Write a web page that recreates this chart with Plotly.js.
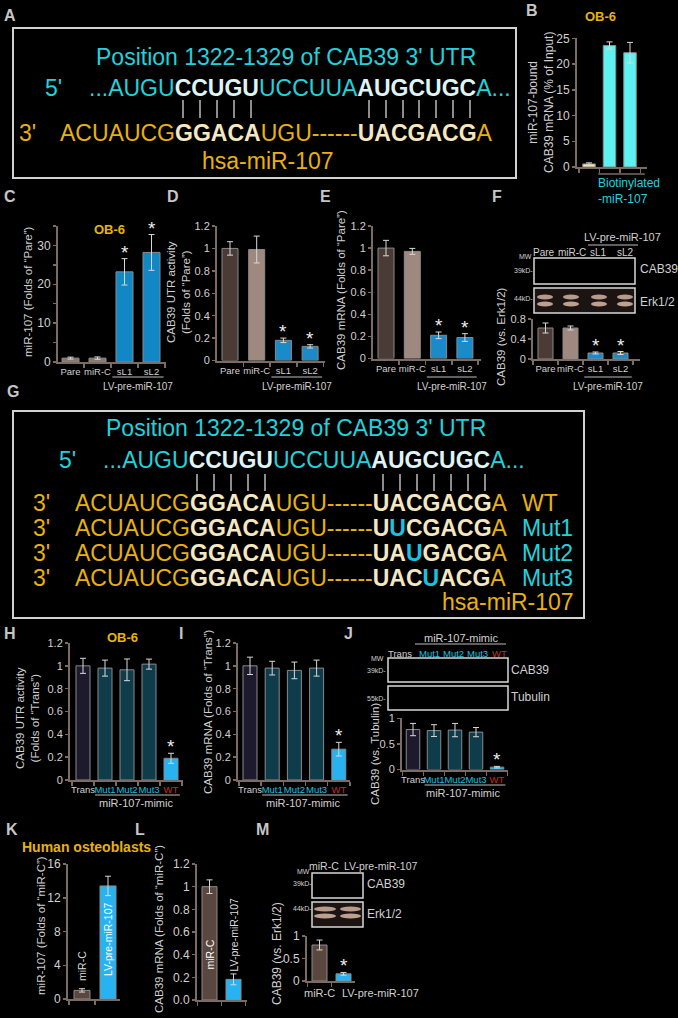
<!DOCTYPE html>
<html><head><meta charset="utf-8">
<script src="https://cdn.plot.ly/plotly-3.0.1.min.js"></script>
<style>html,body{margin:0;padding:0;background:#000;} #chart{width:678px;height:1018px;}</style>
</head><body><div id="chart"></div>
<script>
// ---------------- DATA ----------------
const bCategories = ['Control', 'Biotinylated-miR-107 a', 'Biotinylated-miR-107 b'];
const bValues = [0.6, 23.6, 22.2];
const bErrors = [0.2, 0.7, 2.0];

const lvCategories = ['Pare', 'miR-C', 'sL1', 'sL2'];
const lvStars = [false, false, true, true];
const cValues = [1.0, 1.0, 23.2, 28.2];
const cErrors = [0.25, 0.3, 3.4, 4.6];
const dValues = [1.0, 0.99, 0.18, 0.126];
const dErrors = [0.06, 0.12, 0.02, 0.015];
const eValues = [1.0, 0.97, 0.21, 0.19];
const eErrors = [0.07, 0.027, 0.03, 0.035];
const fValues = [0.62, 0.62, 0.12, 0.12];
const fErrors = [0.1, 0.04, 0.02, 0.03];

const mimicCategories = ['Trans', 'Mut1', 'Mut2', 'Mut3', 'WT'];
const mimicStars = [false, false, false, false, true];
const hValues = [1.0, 0.98, 0.965, 1.015, 0.19];
const hErrors = [0.066, 0.07, 0.095, 0.044, 0.044];
const iValues = [1.0, 0.98, 0.96, 0.98, 0.27];
const iErrors = [0.076, 0.06, 0.073, 0.07, 0.06];
const jValues = [0.78, 0.76, 0.77, 0.73, 0.046];
const jErrors = [0.12, 0.115, 0.13, 0.09, 0.015];

const hobCategories = ['miR-C', 'LV-pre-miR-107'];
const kValues = [1.02, 13.4];
const kErrors = [0.2, 1.15];
const lValues = [1.0, 0.182];
const lErrors = [0.06, 0.048];
const lTickVals = [0, 0.2, 0.4, 0.6, 0.8, 1.0, 1.2];
const lTickText = ['0.0', '0.2', '0.4', '0.6', '0.8', '1', '1.2'];
const mValues = [0.8, 0.16];
const mErrors = [0.11, 0.03];
const mStars = [false, true];

const utrTitle = 'Position 1322-1329 of CAB39 3\' UTR';
const utrSeq = [['...AUGU', 'n'], ['CCUGU', 'h'], ['UCCUUA', 'n'], ['AUGCUGC', 'h'], ['A...', 'n']];
const mirWT = [['ACUAUCG', 'n'], ['GGACA', 'h'], ['UGU------', 'n'], ['UACGACG', 'h'], ['A', 'n']];
const mirMut1 = [['ACUAUCG', 'n'], ['GGACA', 'h'], ['UGU------', 'n'], ['U', 'h'], ['U', 'm'], ['CGACG', 'h'], ['A', 'n']];
const mirMut2 = [['ACUAUCG', 'n'], ['GGACA', 'h'], ['UGU------', 'n'], ['UA', 'h'], ['U', 'm'], ['GACG', 'h'], ['A', 'n']];
const mirMut3 = [['ACUAUCG', 'n'], ['GGACA', 'h'], ['UGU------', 'n'], ['UAC', 'h'], ['U', 'm'], ['ACG', 'h'], ['A', 'n']];
const mutRows = [['WT', mirWT], ['Mut1', mirMut1], ['Mut2', mirMut2], ['Mut3', mirMut3]];

// ---------------- STYLE / HELPERS ----------------
const FONT = 'Liberation Sans, Arial, Helvetica, sans-serif';
const W = 678, H = 1018;
const TXT = '#d0d0d0', AX = '#7b6b63', LETTER = '#c6c6c6';
const CY = '#1fd3dc', GOLD = '#e8b20a', HLC = '#dff4f4', HLG = '#f5e8c0', MUT = '#17c3e0', RED = '#c6301c';
const fx = x => x / W, fy = y => 1 - y / H;
const annotations = [], shapes = [], traces = [];
const layout = {width: W, height: H, margin: {l: 0, r: 0, t: 0, b: 0}, paper_bgcolor: '#000', plot_bgcolor: 'rgba(0,0,0,0)',
  showlegend: false, font: {family: FONT, color: TXT}, bargap: 0};

function txt(x, y, text, o = {}) {
  annotations.push({xref: o.xref || 'paper', yref: 'paper', x: o.xref ? x : fx(x), y: fy(y), text: text, showarrow: false,
    xanchor: o.xa || 'center', yanchor: o.ya || 'middle', textangle: o.angle || 0, align: o.align || 'center',
    font: {family: FONT, size: o.size || 12, color: o.color || TXT}});
}
function rect(x0, y0, x1, y1, o = {}) {
  shapes.push({type: o.type || 'rect', xref: 'paper', yref: 'paper', x0: fx(x0), x1: fx(x1), y0: fy(y1), y1: fy(y0),
    line: {color: o.lc || '#d4d4d4', width: o.lw === undefined ? 1.5 : o.lw}, fillcolor: o.fill || 'rgba(0,0,0,0)', layer: 'above', opacity: o.op || 1});
}
function hline(x0, x1, y, o = {}) {
  shapes.push({type: 'line', xref: o.xref || 'paper', yref: 'paper', x0: o.xref ? x0 : fx(x0), x1: o.xref ? x1 : fx(x1), y0: fy(y), y1: fy(y),
    line: {color: o.color || '#bdbdbd', width: o.w || 1.2}});
}
function seqHtml(segs, base, hl) {
  return segs.map(([t, k]) => k === 'n' ? `<span style="color:${base}">${t}</span>`
    : k === 'h' ? `<span style="color:${hl}"><b>${t}</b></span>` : `<span style="color:${MUT}"><b>${t}</b></span>`).join('');
}

function chart(n, g) {
  const sfx = n === 1 ? '' : String(n);
  const xr = 'x' + sfx, yr = 'y' + sfx;
  const idx = g.cats.map((_, i) => i);
  layout['xaxis' + sfx] = {domain: [fx(g.L), fx(g.R)], range: [(g.L - g.c0) / g.s, (g.R - g.c0) / g.s], anchor: yr,
    showline: true, linecolor: AX, linewidth: 2, showgrid: false, zeroline: false, tickmode: 'array', tickvals: idx,
    ticktext: g.ticktext || g.cats.map(() => ''), ticks: '', tickangle: 0, tickfont: {family: FONT, size: g.xfs || 9.5, color: TXT},
    minor: {tick0: 0.5, dtick: 1, ticks: 'outside', ticklen: 4, tickcolor: AX, tickwidth: 1.5, showgrid: false}, fixedrange: true};
  const ya = {domain: [fy(g.y0), fy(g.yTop)], range: [0, g.ymax], anchor: xr, showline: true, linecolor: AX, linewidth: 2,
    showgrid: false, zeroline: false, ticks: 'outside', ticklen: 3, tickwidth: 1.5, tickcolor: AX, tickangle: 0,
    tickfont: {family: FONT, size: g.yfs || 11, color: TXT}, fixedrange: true};
  if (g.tickvals) { ya.tickmode = 'array'; ya.tickvals = g.tickvals; ya.ticktext = g.tickvaltext || g.tickvals.map(String); }
  else { ya.dtick = g.dtick; ya.tick0 = 0; }
  if (g.minor) ya.minor = {dtick: g.minor, tick0: 0, ticks: 'outside', ticklen: 3, tickcolor: AX, tickwidth: 1.5};
  layout['yaxis' + sfx] = ya;
  traces.push({type: 'bar', x: idx, y: g.values, width: g.w / g.s, xaxis: xr, yaxis: yr, hoverinfo: 'skip',
    marker: {color: g.colors, line: {color: '#8a8a8a', width: 1}},
    error_y: {type: 'data', array: g.errors, visible: true, color: '#d8d8d8', thickness: 1, width: 3}});
  if (g.stars) g.stars.forEach((s, i) => {
    if (s) annotations.push({xref: xr, yref: yr, x: i, y: g.values[i] + g.errors[i], text: '*', showarrow: false,
      yanchor: 'bottom', yshift: -6, font: {family: FONT, size: 19, color: '#eeeeee'}});
  });
  return {xr, yr};
}

// ---------------- PANEL LETTERS ----------------
[['A', 10, 15], ['B', 532, 11], ['C', 10, 197], ['D', 173, 197], ['E', 325, 197], ['F', 497, 197], ['G', 13, 392],
 ['H', 10, 633], ['I', 181, 633], ['J', 348, 633], ['K', 12, 829], ['L', 140, 829], ['M', 262, 829]]
  .forEach(([t, x, y]) => txt(x, y, '<b>' + t + '</b>', {size: 16, color: LETTER}));

// ---------------- PANEL A ----------------
rect(13, 28, 516, 178, {lc: '#d2d2d2', lw: 2});
txt(286, 57, utrTitle, {size: 23, color: CY});
txt(43, 88, "5'", {size: 23, color: CY, xa: 'left'});
txt(87, 88, seqHtml(utrSeq, CY, HLC), {size: 23, xa: 'left'});
[183, 200, 217, 234, 251, 369, 386, 403, 419, 436, 453, 470].forEach(x =>
  shapes.push({type: 'line', xref: 'paper', yref: 'paper', x0: fx(x), x1: fx(x), y0: fy(118), y1: fy(100), line: {color: '#d8d8d8', width: 1.3}}));
txt(17, 133, "3'", {size: 23, color: GOLD, xa: 'left'});
txt(58, 133, seqHtml(mirWT, GOLD, HLG), {size: 23, xa: 'left'});
txt(268, 161, 'hsa-miR-107', {size: 23, color: GOLD});

// ---------------- PANEL B ----------------
const gB = chart(1, {cats: bCategories, values: bValues, errors: bErrors, L: 577, R: 647, c0: 589, s: 20.5, w: 12.5,
  y0: 167, yTop: 38.3, ymax: 25, dtick: 5, yfs: 12, colors: ['#f2e9a0', '#5ef1f1', '#5ef1f1']});
txt(600, 16, '<b>OB-6</b>', {size: 13, color: GOLD});
txt(541, 103, 'miR-107-bound<br>CAB39 mRNA (% of Input)', {size: 12, angle: -90});
hline(0.45, 2.72, 174, {xref: gB.xr, color: AX, w: 1.5});
txt(596, 191, 'Biotinylated<br>-miR-107', {size: 12, color: CY, xa: 'left', align: 'left'});

// ---------------- PANELS C-F ----------------
const lvColors = ['#4b3b36', '#9f887f', '#1a8ac8', '#1a8ac8'];
const gC = chart(2, {cats: lvCategories, ticktext: lvCategories, values: cValues, errors: cErrors, stars: lvStars,
  L: 58, R: 166, c0: 70.5, s: 27, w: 17, y0: 362, yTop: 226, ymax: 35, tickvals: [0, 10, 20, 30], minor: 5, yfs: 12,
  colors: ['#8a766d', '#8a766d', '#1187c6', '#1187c6']});
const gD = chart(3, {cats: lvCategories, ticktext: lvCategories, values: dValues, errors: dErrors, stars: lvStars,
  L: 217, R: 325, c0: 230, s: 26.7, w: 16, y0: 360.5, yTop: 226, ymax: 1.2, dtick: 0.2, colors: lvColors});
const gE = chart(4, {cats: lvCategories, ticktext: lvCategories, values: eValues, errors: eErrors, stars: lvStars,
  L: 373, R: 481, c0: 386, s: 26.3, w: 16, y0: 358.5, yTop: 226, ymax: 1.2, dtick: 0.2, colors: lvColors});
const gF = chart(5, {cats: lvCategories, ticktext: lvCategories, values: fValues, errors: fErrors, stars: lvStars,
  L: 533, R: 640, c0: 545.5, s: 25, w: 15, y0: 359, yTop: 319, ymax: 0.8, dtick: 0.4, colors: lvColors});
[gC, gD, gE, gF].forEach(g => {
  hline(1.55, 3.45, 377, {xref: g.xr, color: '#bdbdbd', w: 1});
  txt(2.5, 386, 'LV-pre-miR-107', {xref: g.xr, size: 10});
});
txt(109, 229, '<b>OB-6</b>', {size: 13, color: GOLD});
txt(28, 292, 'miR-107 (Folds of “Pare”)', {size: 11.5, angle: -90});
txt(178, 292, 'CAB39 UTR activity<br>(Folds of “Pare”)', {size: 11.5, angle: -90});
txt(341, 290, 'CAB39 mRNA (Folds of “Pare”)', {size: 11.5, angle: -90});
txt(501, 337, 'CAB39 (vs. Erk1/2)', {size: 11.5, angle: -90});
// F blot
txt(622, 237, 'LV-pre-miR-107', {size: 11});
hline(588, 638, 245, {color: '#bdbdbd', w: 1});
[543.5, 572, 598.5, 625].forEach((x, i) => txt(x, 253, lvCategories[i], {size: 10}));
txt(525, 256, 'MW', {size: 7});
rect(534, 258, 635, 284, {lc: '#d8d8d8', lw: 1.5});
txt(523, 270, '39kD-', {size: 7});
txt(638, 269, 'CAB39', {size: 12, xa: 'left'});
rect(534, 288, 635, 313, {lc: '#d8d8d8', lw: 1.5, fill: '#1c1412'});
[[537, 553], [563, 579], [591, 607], [617, 633]].forEach(([a, b]) => {
  rect(a, 294.5, b, 299.5, {type: 'circle', lw: 0, lc: 'rgba(0,0,0,0)', fill: '#b89a8b'});
  rect(a, 301.5, b, 306.5, {type: 'circle', lw: 0, lc: 'rgba(0,0,0,0)', fill: '#bea090'});
});
txt(523, 298, '44kD-', {size: 7});
txt(638, 302, 'Erk1/2', {size: 12, xa: 'left'});

// ---------------- PANEL G ----------------
rect(13, 411, 584, 618, {lc: '#d2d2d2', lw: 2});
txt(296, 428, utrTitle, {size: 23, color: CY});
txt(57, 460, "5'", {size: 23, color: CY, xa: 'left'});
txt(101, 460, seqHtml(utrSeq, CY, HLC), {size: 23, xa: 'left'});
[197, 214, 231, 248, 265, 383, 400, 417, 434, 451, 468, 485].forEach(x =>
  shapes.push({type: 'line', xref: 'paper', yref: 'paper', x0: fx(x), x1: fx(x), y0: fy(491), y1: fy(474), line: {color: '#d8d8d8', width: 1.3}}));
mutRows.forEach(([name, segs], r) => {
  const y = 503 + r * 25;
  txt(31, y, "3'", {size: 23, color: GOLD, xa: 'left'});
  txt(73, y, seqHtml(segs, GOLD, HLG), {size: 23, xa: 'left'});
  txt(520, y, name, {size: 23, color: name === 'WT' ? GOLD : CY, xa: 'left'});
});
txt(440, 602, 'hsa-miR-107', {size: 23, color: GOLD, xa: 'left'});

// ---------------- PANELS H-J ----------------
const mimicColors = ['#1d1a2d', '#0e3c4b', '#0e3c4b', '#0e3c4b', '#27b3f1'];
const mimicTextColors = [TXT, MUT, MUT, MUT, RED];
const mimicTicks = mimicCategories.map((c, i) => `<span style="color:${mimicTextColors[i]}">${c}</span>`);
const gH = chart(6, {cats: mimicCategories, ticktext: mimicTicks, values: hValues, errors: hErrors, stars: mimicStars,
  L: 70, R: 183, c0: 83, s: 22, w: 14, y0: 780, yTop: 643, ymax: 1.2, dtick: 0.2, colors: mimicColors});
const gI = chart(7, {cats: mimicCategories, ticktext: mimicTicks, values: iValues, errors: iErrors, stars: mimicStars,
  L: 238, R: 350, c0: 250, s: 22.2, w: 14, y0: 780, yTop: 643, ymax: 1.2, dtick: 0.2, colors: mimicColors});
const gJ = chart(8, {cats: mimicCategories, ticktext: mimicTicks, values: jValues, errors: jErrors, stars: mimicStars,
  L: 402, R: 508, c0: 413, s: 21, w: 13.5, y0: 769.5, yTop: 718.3, ymax: 1, dtick: 0.5, colors: mimicColors});
[[gH, 795, 803], [gI, 795, 803], [gJ, 785, 793]].forEach(([g, ly, ty]) => {
  hline(0.55, 4.4, ly, {xref: g.xr, color: '#bdbdbd', w: 1});
  txt(2.4, ty, 'miR-107-mimic', {xref: g.xr, size: 11});
});
txt(122, 637, '<b>OB-6</b>', {size: 13, color: GOLD});
txt(27, 718, 'CAB39 UTR activity<br>(Folds of “Trans”)', {size: 11.5, angle: -90});
txt(208, 712, 'CAB39 mRNA (Folds of “Trans”)', {size: 11.5, angle: -90});
txt(375, 754, 'CAB39 (vs. Tubulin)', {size: 11.5, angle: -90});
// J blot
txt(461, 638, 'miR-107-mimic', {size: 11});
hline(415, 506, 644, {color: '#bdbdbd', w: 1});
[400, 429, 453.5, 477, 499.5].forEach((x, i) => txt(x, 653, mimicCategories[i], {size: 9.5, color: mimicTextColors[i]}));
txt(377, 658, 'MW', {size: 7});
rect(388, 658, 508, 682, {lc: '#d8d8d8', lw: 1.5});
txt(376, 670, '39kD-', {size: 7});
txt(509, 670, 'CAB39', {size: 12, xa: 'left'});
rect(388, 686, 508, 710, {lc: '#d8d8d8', lw: 1.5});
txt(376, 698, '55kD-', {size: 7});
txt(509, 697, 'Tubulin', {size: 12, xa: 'left'});

// ---------------- PANELS K-M ----------------
const hobColors = ['#5a4840', '#27b3f1'];
const gK = chart(9, {cats: hobCategories, values: kValues, errors: kErrors, L: 68, R: 120, c0: 82, s: 26, w: 16,
  y0: 999, yTop: 864, ymax: 16, dtick: 4, yfs: 12, colors: hobColors});
const gL = chart(10, {cats: hobCategories, values: lValues, errors: lErrors, L: 197, R: 247, c0: 209.5, s: 24, w: 15,
  y0: 1000, yTop: 864, ymax: 1.2, tickvals: lTickVals, tickvaltext: lTickText, yfs: 12, colors: hobColors});
const gM = chart(11, {cats: hobCategories, values: mValues, errors: mErrors, stars: mStars, L: 307, R: 355, c0: 319.5, s: 24, w: 15,
  y0: 981, yTop: 936, ymax: 1, dtick: 0.5, yfs: 12, colors: hobColors});
txt(86, 847, '<b>Human osteoblasts</b>', {size: 14, color: GOLD});
txt(41, 926, 'miR-107 (Folds of “miR-C”)', {size: 11.5, angle: -90});
txt(159, 929, 'CAB39 mRNA (Folds of “miR-C”)', {size: 11.5, angle: -90});
txt(277, 954, 'CAB39 (vs. Erk1/2)', {size: 12, angle: -90});
txt(0, 966, hobCategories[0], {xref: gK.xr, size: 10.5, angle: -90, color: '#dedede'});
txt(1, 940, hobCategories[1], {xref: gK.xr, size: 10.5, angle: -90, color: '#ffffff'});
txt(0, 955, hobCategories[0], {xref: gL.xr, size: 10.5, angle: -90, color: '#ffffff'});
txt(1, 935, hobCategories[1], {xref: gL.xr, size: 10.5, angle: -90, color: '#dedede'});
txt(0, 993, hobCategories[0], {xref: gM.xr, size: 11});
txt(0.85, 993, hobCategories[1], {xref: gM.xr, size: 11, xa: 'left'});
// M blot
txt(303, 871, 'MW', {size: 7});
txt(324, 866, hobCategories[0], {size: 10.5});
txt(342, 866, hobCategories[1], {size: 10.5, xa: 'left'});
rect(312, 873, 363, 898, {lc: '#d8d8d8', lw: 1.5});
txt(302, 883, '39kD-', {size: 7});
txt(365, 884, 'CAB39', {size: 12, xa: 'left'});
rect(312, 902, 363, 927, {lc: '#d8d8d8', lw: 1.5, fill: '#1c1412'});
[[314, 336], [340, 361]].forEach(([a, b]) => {
  rect(a, 906.5, b, 911.5, {type: 'circle', lw: 0, lc: 'rgba(0,0,0,0)', fill: '#b89a8b'});
  rect(a, 913.5, b, 918.5, {type: 'circle', lw: 0, lc: 'rgba(0,0,0,0)', fill: '#bea090'});
});
txt(302, 908, '44kD-', {size: 7});
txt(365, 914, 'Erk1/2', {size: 12, xa: 'left'});

layout.annotations = annotations;
layout.shapes = shapes;
Plotly.newPlot('chart', traces, layout, {displayModeBar: false, staticPlot: true});
</script>
</body></html>
